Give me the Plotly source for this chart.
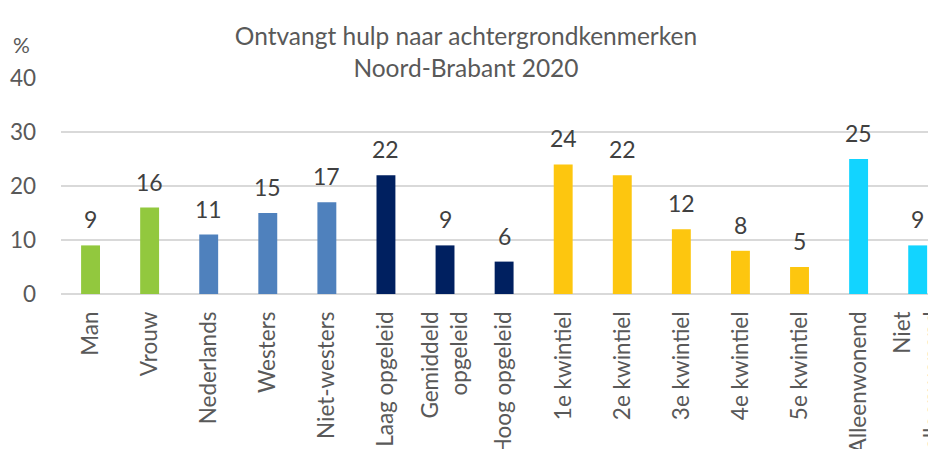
import plotly.graph_objects as go

categories = ["Man", "Vrouw", "Nederlands", "Westers", "Niet-westers", "Laag opgeleid",
              "Gemiddeld<br>opgeleid", "Hoog opgeleid", "1e kwintiel", "2e kwintiel",
              "3e kwintiel", "4e kwintiel", "5e kwintiel", "Alleenwonend", "Niet<br>alleenwonend"]
values = [9, 16, 11, 15, 17, 22, 9, 6, 24, 22, 12, 8, 5, 25, 9]
groups = ["green", "green", "blue", "blue", "blue", "navy", "navy", "navy",
          "yellow", "yellow", "yellow", "yellow", "yellow", "cyan", "cyan"]
group_colors = {"green": "#92C83E", "blue": "#4F81BD", "navy": "#002060",
                "yellow": "#FDC60F", "cyan": "#12D4FF"}
y_ticks = [0, 10, 20, 30, 40]

FONT = "Lato"
fig = go.Figure()
fig.add_trace(go.Bar(
    x=categories, y=values,
    marker=dict(color=[group_colors[g] for g in groups], line=dict(width=0)),
    width=0.32, hoverinfo="skip", showlegend=False,
))

for c, v in zip(categories, values):
    fig.add_annotation(x=c, y=v, text=str(v), showarrow=False, yanchor="bottom",
                       yshift=10, font=dict(family=FONT, size=23, color="#404040"))

fig.add_annotation(xref="paper", yref="paper", x=-0.0446, y=1.153, text="%",
                   xanchor="center", yanchor="middle",
                   showarrow=False, font=dict(family=FONT, size=21, color="#595959"))

fig.update_layout(
    width=928, height=441,
    margin=dict(l=53, r=0, t=70, b=155, autoexpand=False),
    paper_bgcolor="white", plot_bgcolor="white",
    title=dict(text="Ontvangt hulp naar achtergrondkenmerken<br>Noord-Brabant 2020",
               x=0.4935, xref="container", xanchor="center",
               y=0.916, yref="container", yanchor="middle",
               font=dict(family=FONT, size=24.5, color="#595959")),
    font=dict(family=FONT),
)
fig.update_xaxes(range=[-0.5, 14.31], tickangle=-90, automargin=False,
                 tickfont=dict(family=FONT, size=22.5, color="#595959"),
                 showgrid=False, showline=False, ticks="", ticklabelstandoff=12)
fig.update_yaxes(range=[0, 40], tickvals=y_ticks, automargin=False,
                 tickfont=dict(family=FONT, size=22.5, color="#595959"),
                 showgrid=True, gridcolor="#D9D9D9", gridwidth=1.5,
                 zeroline=True, zerolinecolor="#D9D9D9", zerolinewidth=2,
                 ticks="", ticklabelstandoff=24)

fig.write_html("out.html")
